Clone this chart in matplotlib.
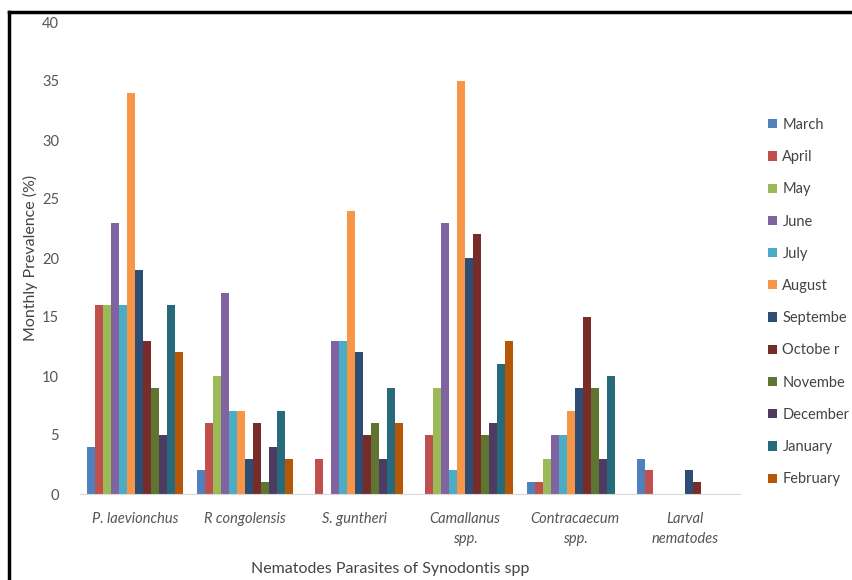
import matplotlib.pyplot as plt
import numpy as np
from matplotlib.lines import Line2D

plt.rcParams['font.family'] = ['Lato', 'DejaVu Sans']

parasites = ["P. laevionchus", "R congolensis", "S. guntheri",
             "Camallanus\nspp.", "Contracaecum\nspp.", "Larval\nnematodes"]
months = ["March", "April", "May", "June", "July", "August", "September",
          "October", "November", "December", "January", "February"]
legend_labels = ["March", "April", "May", "June", "July", "August", "Septembe",
                 "Octobe r", "Novembe", "December", "January", "February"]

# prevalence (%) per month, one value per parasite
march = [4, 2, 0, 0, 1, 3]
april = [16, 6, 3, 5, 1, 2]
may = [16, 10, 0, 9, 3, 0]
june = [23, 17, 13, 23, 5, 0]
july = [16, 7, 13, 2, 5, 0]
august = [34, 7, 24, 35, 7, 0]
september = [19, 3, 12, 20, 9, 2]
october = [13, 6, 5, 22, 15, 1]
november = [9, 1, 6, 5, 9, 0]
december = [5, 4, 3, 6, 3, 0]
january = [16, 7, 9, 11, 10, 0]
february = [12, 3, 6, 13, 0, 0]

series = [march, april, may, june, july, august, september,
          october, november, december, january, february]
colors = ["#4F81BD", "#C0504D", "#9BBB59", "#8064A2", "#4BACC6", "#F79646",
          "#2C4D75", "#772C2A", "#5F7530", "#4D3B62", "#276A7C", "#B65708"]

fig = plt.figure(figsize=(8.52, 5.8), dpi=100)
ax = fig.add_axes([80/852, 1-494/580, 660/852, 472/580])

x = np.arange(len(parasites))
w = 0.0727
for i, vals in enumerate(series):
    ax.bar(x - 5.5*w + i*w, vals, width=w, color=colors[i], label=legend_labels[i])

ax.set_xlim(-0.5, len(parasites)-0.5)
ax.set_ylim(0, 40)
ax.set_yticks(range(0, 41, 5))
ax.set_xticks(x)
ax.set_xticklabels(parasites, style='italic', fontsize=10.5, color='#555555',
                   linespacing=1.5)
ax.tick_params(axis='both', length=0, colors='#555555', labelsize=10.5)
ax.tick_params(axis='x', pad=13)
ax.tick_params(axis='y', pad=15)
for s in ['top', 'right', 'left']:
    ax.spines[s].set_visible(False)
ax.spines['bottom'].set_color('#d9d9d9')

ax.set_ylabel("Monthly Prevalence (%)", fontsize=11.5, color='#444444')
ax.yaxis.set_label_coords(-0.064, 0.5)
ax.set_xlabel("Nematodes Parasites of Synodontis spp", fontsize=11.5,
              color='#444444')
ax.xaxis.set_label_coords(0.47, -0.145)

ax.legend(loc='upper left', bbox_to_anchor=(762/852, 1-112/580),
          bbox_transform=fig.transFigure, frameon=False, fontsize=10.5,
          handlelength=0.6, handleheight=0.6, handletextpad=0.4,
          labelspacing=1.25, labelcolor='#444444', borderaxespad=0)

# black frame lines (top and left)
fig.add_artist(Line2D([9/852, 1.0], [1-12/580, 1-12/580], color='black', lw=2.5,
                      transform=fig.transFigure))
fig.add_artist(Line2D([9/852, 9/852], [0, 1-12/580], color='black', lw=2.5,
                      transform=fig.transFigure))

fig.savefig("out.png", dpi=100)
